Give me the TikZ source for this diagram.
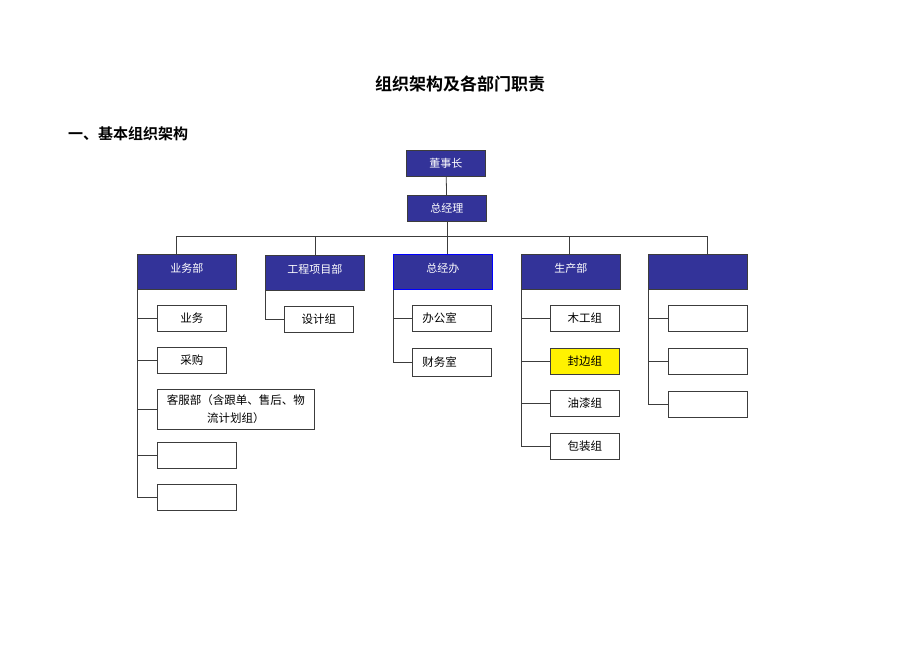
\documentclass[tikz,border=0pt]{standalone}
\usepackage{fontspec}
\setmainfont{Noto Sans CJK SC}[BoldFont={Noto Sans CJK SC Bold}]
\usepackage{tikz}
\usetikzlibrary{positioning}
\definecolor{deptblue}{RGB}{51,51,153}
\definecolor{linegray}{RGB}{60,60,60}

\begin{document}
\begin{tikzpicture}[x=1pt,y=-1pt,
			bluebox/.style = {
				draw=linegray, fill=deptblue, text=white, line width=0.8pt,
				inner sep=0pt, font=\fontsize{11}{13}\selectfont
			},
			dept/.style = {
				bluebox, minimum width=99pt, minimum height=35pt,
				text height=8pt, text depth=6pt
			},
			top/.style = {
				bluebox, minimum width=79pt, minimum height=26pt
			},
			unit/.style = {
				draw=linegray, fill=white, line width=0.8pt,
				minimum width=69pt, minimum height=26pt, inner sep=0pt,
				font=\fontsize{11.5}{14}\selectfont
			},
			wide/.style = {unit, minimum width=79pt},
			leftbox/.style = {unit, text width=59pt, align=left, inner xsep=10pt},
			link/.style = {draw=linegray, line width=0.8pt}]
			\useasboundingbox (0,0) rectangle (920,651);
			% titles
			\node (title) [font=\fontsize{17}{20}\selectfont\bfseries] at (460,84) {组织架构及各部门职责};
			\node (sub) [anchor=west, inner sep=0pt, font=\fontsize{15}{18}\selectfont\bfseries] at (68,134) {一、基本组织架构};
			% top
			\node (dsz) [top, anchor=north west] at (406,150) {董事长};
			\node (zjl) [top, anchor=north west] at (407,195) {总经理};
			% departments
			\node (ywb) [dept, anchor=north west] at (137,254) {业务部\hspace{12pt}};
			\node (gcb) [dept, anchor=north west] at (265,255) {工程项目部};
			\node (zjb) [dept, anchor=north west, draw=blue] at (393,254) {总经办};
			\node (scb) [dept, anchor=north west] at (521,254) {生产部};
			\node (kb) [dept, anchor=north west] at (648,254) {};
			% units
			\node (yw1) [unit, anchor=north west] at (157,305) {业务};
			\node (yw2) [unit, anchor=north west] at (157,347) {采购};
			\node (yw3) [unit, anchor=north west, minimum width=157pt, minimum height=40pt, align=center,
				font=\fontsize{11.5}{18}\selectfont]
				at (157,389) {客服部（含跟单、售后、物\\流计划组）};
			\node (yw4) [wide, anchor=north west] at (157,442) {};
			\node (yw5) [wide, anchor=north west] at (157,484) {};
			\node (gc1) [unit, anchor=north west] at (284,306) {设计组};
			\node (zj1) [leftbox, anchor=north west] at (412,305) {办公室};
			\node (zj2) [leftbox, anchor=north west, minimum height=28pt] at (412,348) {财务室};
			\node (sc1) [unit, anchor=north west] at (550,305) {木工组};
			\node (sc2) [unit, anchor=north west, fill=yellow] at (550,348) {封边组};
			\node (sc3) [unit, anchor=north west] at (550,390) {油漆组};
			\node (sc4) [unit, anchor=north west] at (550,433) {包装组};
			\node (kb1) [wide, anchor=north west] at (668,305) {};
			\node (kb2) [wide, anchor=north west] at (668,348) {};
			\node (kb3) [wide, anchor=north west] at (668,391) {};
			% connectors
			\coordinate (busl) at (176,236);
			\coordinate (busr) at (707,236);
			\coordinate (scdrop) at (569,236);
			\path [link]
			(dsz) edge (zjl)
			(zjl) edge (zjl.south |- zjb.north)
			(busl) edge (busr)
			(busl) edge (busl |- ywb.north)
			(busr) edge (busr |- kb.north)
			(gcb.north |- busl) edge (gcb.north)
			(scdrop) edge (scdrop |- scb.north);
			\draw [link] (ywb.south west) |- (yw5.west);
			\draw [link] (gcb.south west) |- (gc1.west);
			\draw [link] (zjb.south west) |- (zj2.west);
			\draw [link] (scb.south west) |- (sc4.west);
			\draw [link] (kb.south west) |- (kb3.west);
			\foreach \n/\d in {yw1/ywb, yw2/ywb, yw3/ywb, yw4/ywb, zj1/zjb, sc1/scb, sc2/scb, sc3/scb, kb1/kb, kb2/kb}
				\draw [link] (\n.west) -- (\n.west -| \d.west);
		\end{tikzpicture}
\end{document}
